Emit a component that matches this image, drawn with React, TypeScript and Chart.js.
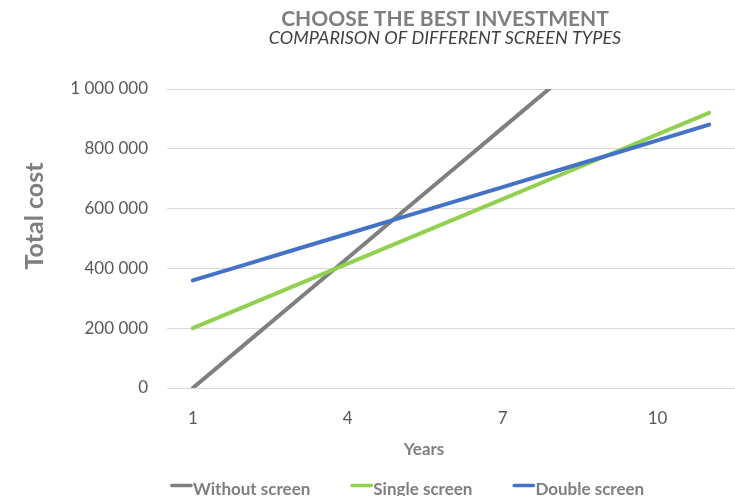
import React, { useEffect, useRef } from 'react';
import { Chart, registerables } from 'chart.js';

Chart.register(...registerables);

// ---- data ----
const years = ['1', '2', '3', '4', '5', '6', '7', '8', '9', '10', '11'];
const shownYears = ['1', '4', '7', '10'];
const withoutScreen = [0, 145000, 290000, 435000, 580000, 725000, 870000, 1015000, 1160000, 1305000, 1450000];
const singleScreen = [200000, 272000, 344000, 416000, 488000, 560000, 632000, 704000, 776000, 848000, 920000];
const doubleScreen = [360000, 412000, 464000, 516000, 568000, 620000, 672000, 724000, 776000, 828000, 881000];
const yTickValues = [0, 200000, 400000, 600000, 800000, 1000000];
const seriesNames = ['Without screen', 'Single screen', 'Double screen'];
const seriesColors = ['#7f7f7f', '#92d050', '#4472c4'];
const titleText = 'CHOOSE THE BEST INVESTMENT';
const subtitleText = 'COMPARISON OF DIFFERENT SCREEN TYPES';
const xTitleText = 'Years';
const yTitleText = 'Total cost';

const FONT = 'Lato, "Open Sans", sans-serif';

const fmt = (v: number) => String(Math.round(v)).replace(/\B(?=(\d{3})+(?!\d))/g, ' ');

const overlayPlugin = {
  id: 'overlayText',
  afterDraw(chart: any) {
    const ctx = chart.ctx as CanvasRenderingContext2D;
    ctx.save();
    // Title
    ctx.textAlign = 'center';
    ctx.textBaseline = 'alphabetic';
    ctx.fillStyle = '#7f7f7f';
    ctx.font = `bold 21px ${FONT}`;
    ctx.fillText(titleText, 445, 26);
    // Subtitle
    ctx.fillStyle = '#404040';
    ctx.font = `italic 18px ${FONT}`;
    ctx.fillText(subtitleText, 445, 44);
    // X title
    ctx.fillStyle = '#7f7f7f';
    ctx.font = `bold 17px ${FONT}`;
    ctx.fillText(xTitleText, 424, 454.5);
    // Y title
    ctx.save();
    ctx.translate(43, 216);
    ctx.rotate(-Math.PI / 2);
    ctx.font = `bold 25px ${FONT}`;
    ctx.fillText(yTitleText, 0, 0);
    ctx.restore();
    // Legend
    ctx.font = `bold 17px ${FONT}`;
    ctx.textAlign = 'left';
    let x = 170;
    const markerY = 485.5;
    chart.data.datasets.forEach((ds: any) => {
      ctx.strokeStyle = ds.borderColor;
      ctx.lineWidth = 3.5;
      ctx.lineCap = 'round';
      ctx.beginPath();
      ctx.moveTo(x + 1.75, markerY);
      ctx.lineTo(x + 21, markerY);
      ctx.stroke();
      ctx.fillStyle = '#7f7f7f';
      ctx.fillText(ds.label, x + 23, 494.5);
      x += 23 + ctx.measureText(ds.label).width + 40;
    });
    ctx.restore();
  },
};

export default function App() {
  const canvasRef = useRef<HTMLCanvasElement | null>(null);

  useEffect(() => {
    document.body.style.margin = '0';
    const canvas = canvasRef.current;
    if (!canvas) return;
    const values = [withoutScreen, singleScreen, doubleScreen];
    const chart = new Chart(canvas, {
      type: 'line',
      data: {
        labels: years,
        datasets: values.map((data, i) => ({
          label: seriesNames[i],
          data,
          borderColor: seriesColors[i],
          backgroundColor: seriesColors[i],
          borderWidth: 4,
          borderCapStyle: 'round' as const,
          borderJoinStyle: 'round' as const,
          pointRadius: 0,
          pointHoverRadius: 0,
          tension: 0,
          fill: false,
          order: 3 - i,
        })),
      },
      options: {
        animation: false,
        responsive: false,
        devicePixelRatio: 1,
        layout: { padding: { top: 89, left: 0, right: 0, bottom: 0 } },
        plugins: {
          legend: { display: false },
          title: { display: false },
          tooltip: { enabled: false },
        },
        scales: {
          x: {
            type: 'category',
            offset: true,
            grid: { display: false, drawTicks: false },
            border: { display: false },
            ticks: {
              autoSkip: false,
              maxRotation: 0,
              padding: 20,
              color: '#595959',
              font: { family: FONT, size: 17 },
              callback: (_v: any, idx: number) => (shownYears.includes(years[idx]) ? years[idx] : ''),
            },
            afterFit: (scale: any) => {
              scale.height = 108;
            },
          },
          y: {
            min: 0,
            max: 1000000,
            afterBuildTicks: (scale: any) => {
              scale.ticks = yTickValues.map((v) => ({ value: v }));
            },
            grid: { color: '#d9d9d9', lineWidth: 1, drawTicks: false },
            border: { display: false },
            ticks: {
              padding: 19,
              color: '#595959',
              font: { family: FONT, size: 17 },
              callback: (v: any) => fmt(Number(v)),
            },
            afterFit: (scale: any) => {
              scale.width = 167;
            },
          },
        },
      },
      plugins: [overlayPlugin],
    });
    return () => chart.destroy();
  }, []);

  return (
    <div style={{ width: 735, height: 496, background: '#ffffff' }}>
      <canvas ref={canvasRef} width={735} height={496} />
    </div>
  );
}
